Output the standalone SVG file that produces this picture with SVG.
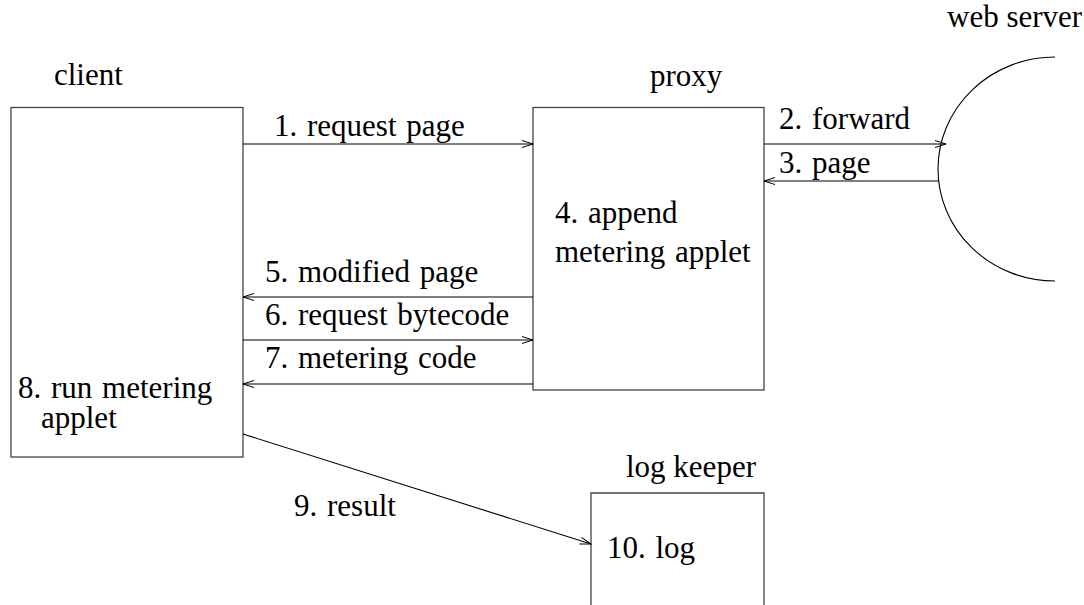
<svg xmlns="http://www.w3.org/2000/svg" width="1084" height="605" viewBox="0 0 1084 605">
<defs>
<marker id="ah" markerUnits="userSpaceOnUse" markerWidth="14" markerHeight="10" viewBox="-12 -5 14 10" refX="0" refY="0" orient="auto">
<path d="M-11,-3.5 L0,0 L-11,3.5" fill="none" stroke="#000" stroke-width="1"/>
</marker>
</defs>
<rect width="1084" height="605" fill="#fff"/>
<g font-family="Liberation Serif" font-size="31" fill="#000" word-spacing="2">
<g id="client">
<rect x="11" y="107.5" width="232" height="349.5" fill="none" stroke="#444" stroke-width="1.3"/>
<text x="54" y="85">client</text>
<text x="18" y="398">8. run metering</text>
<text x="41" y="428">applet</text>
</g>
<g id="proxy">
<rect x="533" y="107.5" width="231" height="282.5" fill="none" stroke="#444" stroke-width="1.3"/>
<text x="650" y="86">proxy</text>
<text x="555" y="223">4. append</text>
<text x="555" y="262">metering applet</text>
</g>
<g id="webserver">
<path d="M1055,57 A117,112 0 0 0 1055,281" fill="none" stroke="#000" stroke-width="1.1"/>
<text x="947" y="27" word-spacing="0">web server</text>
</g>
<g id="logkeeper">
<path d="M591,605 L591,493 L764,493 L764,605" fill="none" stroke="#444" stroke-width="1.3"/>
<text x="626" y="477" word-spacing="0">log keeper</text>
<text x="607" y="558">10. log</text>
</g>
<g id="connectors">
<g fill="none" stroke="#000" stroke-width="1.1" marker-end="url(#ah)">
<line x1="243" y1="144" x2="533" y2="144"/>
<line x1="764" y1="144" x2="946" y2="144"/>
<line x1="939" y1="181" x2="764" y2="181"/>
<line x1="533" y1="297" x2="243" y2="297"/>
<line x1="243" y1="340" x2="533" y2="340"/>
<line x1="533" y1="384" x2="243" y2="384"/>
<line x1="243" y1="434" x2="591" y2="544"/>
</g>
<text x="274" y="136">1. request page</text>
<text x="779" y="129">2. forward</text>
<text x="779" y="173">3. page</text>
<text x="265" y="282">5. modified page</text>
<text x="265" y="325">6. request bytecode</text>
<text x="265" y="368">7. metering code</text>
<text x="294" y="516">9. result</text>
</g>
</g>
</svg>
